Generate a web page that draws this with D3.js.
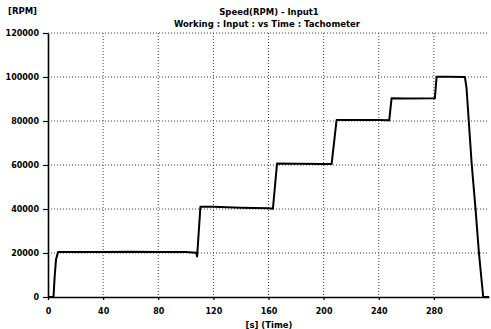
<!DOCTYPE html>
<html>
<head>
<meta charset="utf-8">
<script src="https://d3js.org/d3.v7.min.js"></script>
<style>
  body { margin: 0; background: #fff; }
  text { font-family: "DejaVu Sans", sans-serif; fill: #000; }
</style>
</head>
<body>
<div id="chart"></div>
<script>
// Tachometer trace
const timeSec = [0, 4, 4.8, 5.8, 7.3, 20, 40, 60, 80, 100, 107.5, 108.2, 110.6, 120, 140, 160, 163.2, 166.2,
  180, 200, 205.8, 209.4, 220, 240, 247.6, 249.3, 260, 280.7, 282, 290, 302.5, 303.7, 307.4, 310.3, 312.7, 315.8, 320];
const speedRpm = [0, 0, 9000, 17000, 20400, 20500, 20400, 20600, 20500, 20400, 20100, 18400, 41000, 41000, 40600, 40300, 40100, 60700,
  60600, 60500, 60400, 80400, 80500, 80400, 80300, 90300, 90200, 90300, 100100, 100100, 100000, 94900, 60800, 39500, 20000, 0, 0];

const xTicks = [0, 40, 80, 120, 160, 200, 240, 280];
const yTicks = [0, 20000, 40000, 60000, 80000, 100000, 120000];

const titleText = "Speed(RPM) - Input1";
const subtitleText = "Working : Input : vs Time : Tachometer";
const yUnit = "[RPM]";
const xLabel = "[s] (Time)";

const width = 491, height = 329;
const margin = {top: 33, right: 2, bottom: 32, left: 48};

const svg = d3.select("#chart").append("svg")
  .attr("width", width)
  .attr("height", height);

const x = d3.scaleLinear().domain([0, 320]).range([margin.left, width - margin.right]);
const y = d3.scaleLinear().domain([0, 120000]).range([height - margin.bottom, margin.top]);

// grid
svg.append("g")
  .selectAll("line")
  .data(yTicks.filter(d => d > 0))
  .join("line")
  .attr("x1", margin.left).attr("x2", width - margin.right)
  .attr("y1", d => y(d)).attr("y2", d => y(d))
  .attr("stroke", "#444").attr("stroke-width", 1)
  .attr("stroke-dasharray", "1,2");

svg.append("g")
  .selectAll("line")
  .data(xTicks.filter(d => d > 0))
  .join("line")
  .attr("x1", d => x(d)).attr("x2", d => x(d))
  .attr("y1", margin.top).attr("y2", height - margin.bottom)
  .attr("stroke", "#444").attr("stroke-width", 1)
  .attr("stroke-dasharray", "1,2");

// axes
const xAxis = svg.append("g")
  .attr("transform", `translate(0,${height - margin.bottom})`)
  .call(d3.axisBottom(x).tickValues(xTicks).tickSize(3).tickSizeOuter(0).tickFormat(d3.format("d")));
const yAxis = svg.append("g")
  .attr("transform", `translate(${margin.left},0)`)
  .call(d3.axisLeft(y).tickValues(yTicks).tickSize(5).tickSizeOuter(0).tickFormat(d3.format("d")));

[xAxis, yAxis].forEach(a => {
  a.select(".domain").attr("stroke", "#000").attr("stroke-width", 1.6);
  a.selectAll(".tick line").attr("stroke", "#000").attr("stroke-width", 1.2);
  a.selectAll("text")
    .style("font-family", "DejaVu Sans, sans-serif")
    .style("font-size", "8px")
    .style("font-weight", "bold");
});
xAxis.selectAll("text").attr("dy", "1.4em");
yAxis.selectAll("text").attr("x", -9);

// trace
const line = d3.line()
  .x((d, i) => x(timeSec[i]))
  .y(d => y(d));

svg.append("path")
  .datum(speedRpm)
  .attr("fill", "none")
  .attr("stroke", "#000")
  .attr("stroke-width", 2)
  .attr("stroke-linejoin", "round")
  .attr("d", line);

// labels
svg.append("text")
  .attr("x", 8).attr("y", 14)
  .style("font-size", "8.5px").style("font-weight", "bold")
  .text(yUnit);

svg.append("text")
  .attr("x", 269).attr("y", 15)
  .attr("text-anchor", "middle")
  .style("font-size", "8.5px").style("font-weight", "bold")
  .text(titleText);

svg.append("text")
  .attr("x", 267).attr("y", 27)
  .attr("text-anchor", "middle")
  .style("font-size", "8.5px").style("font-weight", "bold")
  .text(subtitleText);

svg.append("text")
  .attr("x", 269).attr("y", 328)
  .attr("text-anchor", "middle")
  .style("font-size", "8.5px").style("font-weight", "bold")
  .text(xLabel);
</script>
</body>
</html>
